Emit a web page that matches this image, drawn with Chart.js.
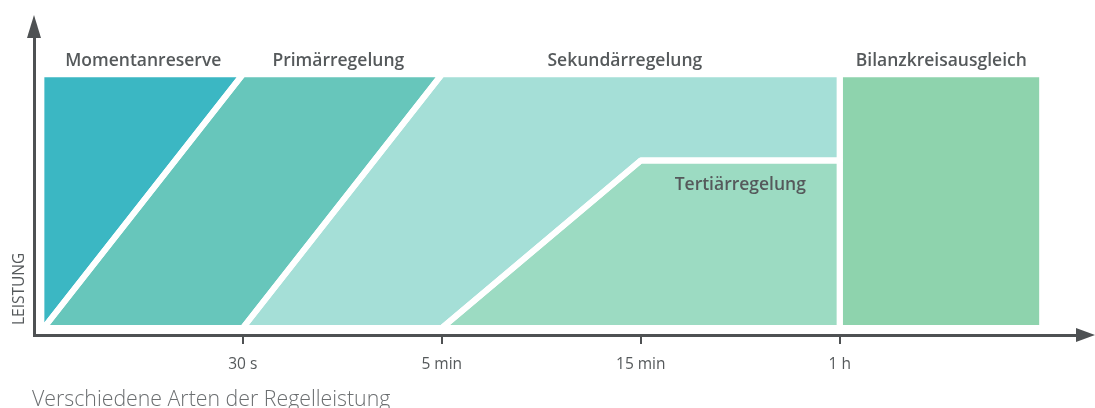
<!DOCTYPE html>
<html>
<head>
<meta charset="utf-8">
<script src="https://cdn.jsdelivr.net/npm/chart.js@4.4.1/dist/chart.umd.min.js"></script>
<style>
  html, body { margin: 0; padding: 0; background: #ffffff; }
  #wrap { position: relative; width: 1095px; height: 408px; overflow: hidden; }
  #c { position: absolute; left: 0; top: 0; }
  #caption { position: absolute; left: 32px; top: 383px; font-family: "Open Sans", sans-serif; font-weight: 300; font-size: 21.3px; color: #6b6e70; white-space: nowrap; }
</style>
</head>
<body>
<div id="wrap">
  <canvas id="c" width="1095" height="408"></canvas>
  <div id="caption">Verschiedene Arten der Regelleistung</div>
</div>
<script>
// ---- data (x: time stage index, y: relative power) ----
const tickValues = [1, 2, 3, 4];
const tickLabels = ["30 s", "5 min", "15 min", "1 h"];

const momentanX = [-0.012, -0.012, 1, 0, -0.012];
const momentanY = [0, 1, 1, 0, 0];

const primaerX = [0, 1, 2, 1, 0];
const primaerY = [0, 1, 1, 0, 0];

const sekundaerX = [1, 2, 4, 4, 3, 2, 1];
const sekundaerY = [0, 1, 1, 0.66, 0.66, 0, 0];

const tertiaerX = [2, 3, 4, 4, 2];
const tertiaerY = [0, 0.66, 0.66, 0, 0];

const bilanzX = [4, 4, 5.017, 5.017, 4];
const bilanzY = [0, 1, 1, 0, 0];

const seriesNames = ["Momentanreserve", "Primärregelung", "Sekundärregelung", "Tertiärregelung", "Bilanzkreisausgleich"];
const seriesColors = ["#3bb7c3", "#67c6bb", "#a5dfd7", "#9cdbc2", "#8ed3ad"];

const labelX = [0.5, 1.48, 2.92, 3.5, 4.51];
const labelY = [1.056, 1.056, 1.056, 0.567, 1.056];

const yAxisTitle = "LEISTUNG";

const AXIS = "#4e5153";
const TEXT = "#55595b";

function pts(xs, ys) { return xs.map((x, i) => ({x: x, y: ys[i]})); }
const shapes = [pts(momentanX, momentanY), pts(primaerX, primaerY), pts(sekundaerX, sekundaerY), pts(tertiaerX, tertiaerY), pts(bilanzX, bilanzY)];

const datasets = shapes.map((d, i) => ({
  label: seriesNames[i],
  data: d,
  showLine: true,
  fill: 'shape',
  backgroundColor: seriesColors[i],
  borderColor: '#ffffff',
  borderWidth: 6,
  borderJoinStyle: 'round',
  pointRadius: 0,
  tension: 0
}));

const decor = {
  id: 'decor',
  afterDraw(chart) {
    const ctx = chart.ctx;
    const xs = chart.scales.x, ys = chart.scales.y;
    const a = chart.chartArea;
    ctx.save();
    // arrowheads
    ctx.fillStyle = AXIS;
    ctx.beginPath();
    ctx.moveTo(a.left, a.top - 22);
    ctx.lineTo(a.left - 7, a.top + 1);
    ctx.lineTo(a.left + 7, a.top + 1);
    ctx.closePath();
    ctx.fill();
    ctx.beginPath();
    ctx.moveTo(a.right + 15, a.bottom);
    ctx.lineTo(a.right - 4, a.bottom - 7);
    ctx.lineTo(a.right - 4, a.bottom + 7);
    ctx.closePath();
    ctx.fill();
    // region labels
    ctx.fillStyle = TEXT;
    ctx.font = '600 17.5px "Open Sans", sans-serif';
    ctx.textAlign = 'center';
    ctx.textBaseline = 'alphabetic';
    seriesNames.forEach((n, i) => {
      ctx.fillText(n, xs.getPixelForValue(labelX[i]), ys.getPixelForValue(labelY[i]) + 6);
    });
    // y axis title
    ctx.font = '400 15.5px "Open Sans", sans-serif';
    ctx.translate(23.5, ys.getPixelForValue(0) - 3);
    ctx.rotate(-Math.PI / 2);
    ctx.textAlign = 'left';
    ctx.fillText(yAxisTitle, 0, 0);
    ctx.restore();
  }
};

new Chart(document.getElementById('c'), {
  type: 'scatter',
  data: { datasets: datasets },
  plugins: [decor],
  options: {
    responsive: false,
    animation: false,
    events: [],
    layout: { padding: { left: 0, right: 15, top: 37, bottom: 0 } },
    plugins: {
      legend: { display: false },
      tooltip: { enabled: false },
      filler: { drawTime: 'beforeDatasetsDraw' }
    },
    scales: {
      x: {
        type: 'linear',
        min: -0.049,
        max: 5.207,
        afterBuildTicks: (s) => { s.ticks = tickValues.map(v => ({value: v})); },
        afterFit: (s) => { s.height = 73; },
        border: { display: true, color: AXIS, width: 3 },
        grid: { display: true, drawOnChartArea: false, drawTicks: true, tickLength: 9, tickWidth: 2, tickColor: AXIS, color: AXIS, lineWidth: 2 },
        ticks: {
          padding: 11,
          color: TEXT,
          font: { family: '"Open Sans", sans-serif', size: 15.5 },
          maxRotation: 0,
          autoSkip: false,
          callback: (v) => { const i = tickValues.indexOf(v); return i >= 0 ? tickLabels[i] : ''; }
        }
      },
      y: {
        type: 'linear',
        min: -0.0276,
        max: 1.147,
        afterFit: (s) => { s.width = 34; },
        border: { display: true, color: AXIS, width: 3 },
        grid: { display: true, drawOnChartArea: false, drawTicks: false, color: 'rgba(0,0,0,0)' },
        ticks: { display: false }
      }
    }
  }
});
</script>
</body>
</html>
